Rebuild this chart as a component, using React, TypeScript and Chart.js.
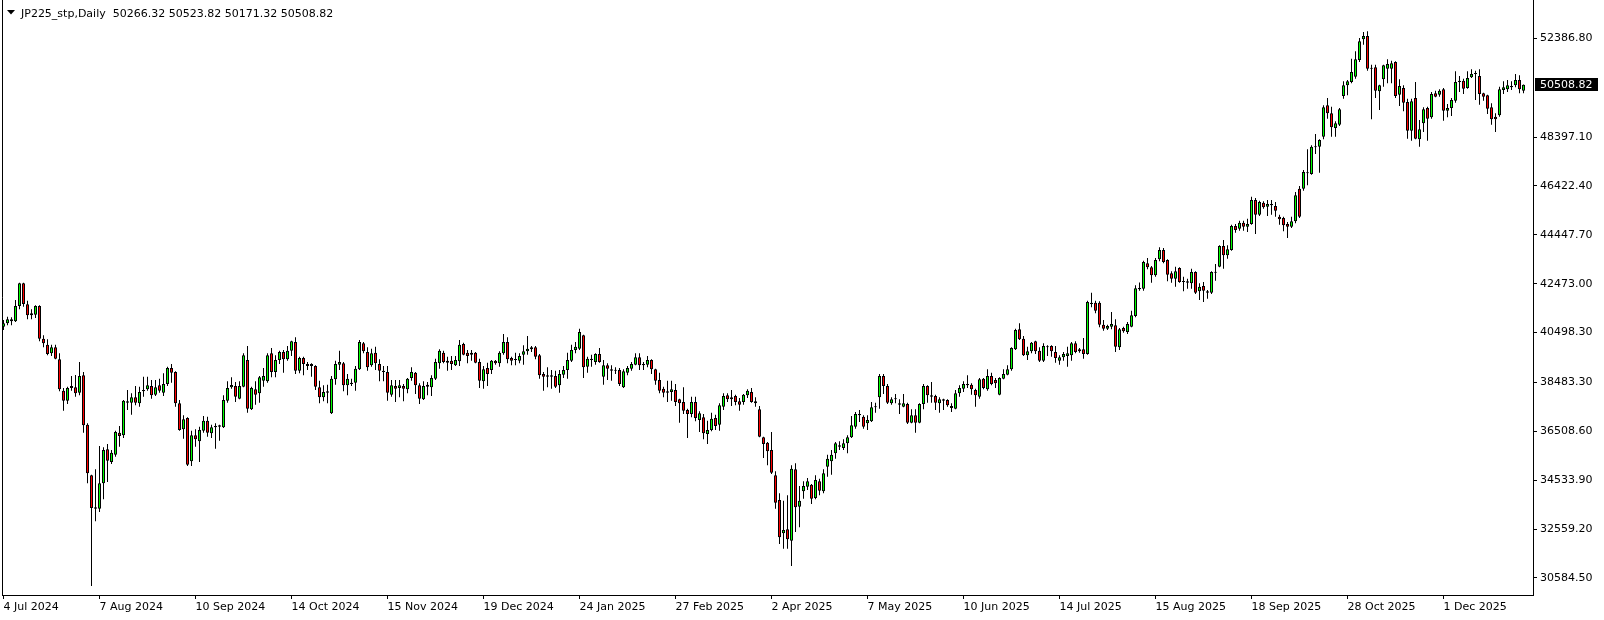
import React, { useEffect, useRef } from "react";
import { Chart, registerables } from "chart.js";

Chart.register(...registerables);

// ---- Data (JP225_stp, Daily) ----
const symbolTitle = "JP225_stp,Daily";

const dateLabels = [
  "4 Jul 2024", "7 Aug 2024", "10 Sep 2024", "14 Oct 2024", "15 Nov 2024", "19 Dec 2024",
  "24 Jan 2025", "27 Feb 2025", "2 Apr 2025", "7 May 2025", "10 Jun 2025", "14 Jul 2025",
  "15 Aug 2025", "18 Sep 2025", "28 Oct 2025", "1 Dec 2025",
];
const dateTickBars = [0, 24, 48, 72, 96, 120, 144, 168, 192, 216, 240, 264, 288, 312, 336, 360];

const priceTicks = [30584.5, 32559.2, 34533.9, 36508.6, 38483.3, 40498.3, 42473.0, 44447.7, 46422.4, 48397.1, 52386.8];

const opens = [
  40737, 40871, 41033, 40952, 41572, 42487, 41639, 41275, 41222, 41572,
  40252, 40010, 39659, 39902, 39417, 38151, 37747, 38340, 38286, 38070,
  38771, 36777, 34730, 33438, 33384, 34407, 35781, 35269, 35565, 36454,
  36347, 37720, 37666, 37882, 37639, 38124, 38205, 38340, 37990, 38367,
  38070, 38420, 39067, 38905, 37639, 36589, 37047, 35296, 36347, 36104,
  36535, 36939, 36427, 36670, 36697, 36670, 37747, 38286, 38340, 37828,
  38313, 39390, 37397, 38205, 38043, 38555, 38528, 39659, 38905, 39390,
  39713, 39417, 39767, 40117, 38959, 39471, 39228, 39228, 39148, 38286,
  37882, 38070, 37235, 38609, 39201, 39255, 38367, 38420, 38474, 39013,
  40063, 39713, 39175, 39686, 39228, 38959, 38905, 37990, 38340, 38259,
  38340, 38205, 38663, 38878, 38367, 37801, 38313, 38286, 38636, 39255,
  39686, 39363, 39363, 39174, 39336, 40036, 39686, 39605, 39686, 39309,
  38528, 39067, 38986, 39363, 39255, 39659, 40117, 39471, 39390, 39363,
  39605, 39740, 39821, 39902, 39578, 38824, 38717, 38770, 38744, 38367,
  38797, 38986, 39363, 39794, 39848, 40387, 39121, 39390, 39309, 39632,
  38717, 39174, 39013, 38959, 38986, 38286, 38878, 39040, 39201, 39498,
  39228, 39201, 39390, 39013, 38582, 38232, 38070, 38097, 38178, 37801,
  37693, 37370, 37208, 37693, 36966, 37074, 36400, 36562, 37047, 36777,
  37505, 37963, 37801, 37936, 37720, 37693, 37963, 38097, 37639, 37397,
  36266, 36050, 35754, 34730, 33734, 32387, 32549, 32091, 34973, 33465,
  34084, 34273, 34354, 33815, 34488, 34084, 35081, 35296, 35619, 35943,
  35835, 36023, 36266, 36697, 37208, 37101, 36831, 36912, 37478, 37882,
  38744, 38340, 37639, 37801, 37639, 37505, 37612, 36858, 37155, 36858,
  37612, 38340, 37963, 37936, 37639, 37801, 37774, 37532, 37424, 38043,
  38232, 38367, 38394, 38178, 37909, 38636, 38205, 38744, 38582, 37990,
  38636, 38797, 39013, 39821, 40629, 40252, 39578, 39740, 40144, 39767,
  39363, 39902, 39956, 39713, 39363, 39498, 39552, 39578, 40063, 39740,
  39821, 39632, 41652, 41706, 41706, 40817, 40656, 40737, 40790, 39902,
  40683, 40521, 40737, 41168, 42245, 42272, 43295, 43134, 42810, 43457,
  43834, 43430, 42891, 42676, 43107, 42541, 42568, 42487, 42945, 42164,
  42380, 42164, 42110, 42918, 43161, 43996, 43619, 43834, 44804, 44696,
  44938, 44777, 44884, 45854, 45261, 45746, 45585, 45638, 45611, 45181,
  45127, 44884, 44777, 44992, 46312, 46312, 46931, 46904, 47982, 48009,
  48413, 49679, 49355, 48763, 48897, 50056, 50487, 50621, 50837, 51510,
  52345, 52480, 51187, 51214, 50244, 50729, 51160, 51160, 51429, 50110,
  50379, 49813, 48655, 49975, 48305, 48951, 49571, 49194, 50163, 50110,
  50325, 49463, 49571, 49867, 50621, 50675, 50379, 50810, 50944, 50864,
  50163, 50083, 49598, 49221, 49275, 50298, 50325, 50406, 50486, 50702,
  50266.32,
];

const highs = [
  41006, 41141, 41114, 41814, 42514, 42514, 41787, 41437, 41599, 41599,
  40386, 40225, 40010, 40010, 39659, 38259, 38313, 38744, 38784, 39309,
  38905, 36831, 34757, 34973, 35916, 35862, 35996, 35754, 36535, 36723,
  37774, 38178, 38043, 38340, 38313, 38717, 38717, 38582, 38582, 38636,
  38851, 39121, 39228, 38932, 37774, 37155, 37074, 36535, 36589, 36697,
  37128, 37101, 36777, 36831, 36777, 37963, 38528, 38690, 38501, 38528,
  39659, 39956, 38313, 38528, 38744, 39067, 39659, 39875, 39578, 39767,
  39794, 39956, 40171, 40306, 39525, 39525, 39309, 39255, 39175, 38555,
  38367, 38394, 38744, 39363, 39767, 39309, 38824, 38636, 39148, 40198,
  40117, 39902, 39848, 39929, 39417, 39148, 39148, 38582, 38582, 38582,
  38420, 38663, 39094, 38905, 38447, 38528, 38501, 38770, 39444, 39821,
  39767, 39525, 39552, 39552, 40198, 40090, 39794, 39794, 39713, 39444,
  39148, 39282, 39390, 39390, 39740, 40440, 40306, 39525, 39686, 39659,
  39983, 40360, 39956, 39956, 39632, 38905, 39094, 38986, 38959, 38986,
  39148, 39686, 40010, 40117, 40656, 40413, 39525, 39605, 39659, 39875,
  39390, 39255, 39174, 39094, 39067, 39013, 39148, 39309, 39659, 39659,
  39309, 39552, 39417, 39040, 38878, 38313, 38555, 38555, 38420, 37828,
  38286, 37424, 37909, 37909, 37316, 37208, 36939, 37262, 37181, 37639,
  38043, 38043, 38178, 37990, 37855, 38016, 38205, 38259, 37882, 37532,
  36293, 36077, 36481, 34892, 34003, 33707, 33922, 35135, 35215, 34300,
  34488, 34623, 34381, 34730, 34596, 34973, 35566, 35754, 36077, 36104,
  36185, 36347, 37128, 37289, 37370, 37155, 37155, 37693, 37666, 38824,
  38824, 38420, 37882, 38016, 37801, 38016, 37666, 37397, 37397, 37639,
  38420, 38367, 38501, 37990, 37882, 37828, 37801, 37639, 38178, 38367,
  38528, 38770, 38447, 38232, 38663, 38663, 39013, 38878, 38663, 38690,
  39013, 39175, 39902, 40656, 40871, 40360, 39929, 40117, 40171, 39902,
  40063, 39983, 39983, 39956, 39578, 39713, 39929, 40117, 40144, 39875,
  40279, 41787, 42110, 41787, 41760, 41006, 40817, 41329, 41033, 40683,
  40737, 40925, 41383, 42407, 42520, 43403, 43511, 43188, 43511, 43942,
  43915, 43457, 42972, 43161, 43134, 42757, 42676, 43080, 42972, 42487,
  42541, 42218, 42972, 43268, 44023, 44238, 44023, 44858, 44884, 45019,
  45019, 45100, 45989, 45935, 45827, 45800, 45854, 45854, 45773, 45261,
  45181, 44965, 45181, 46177, 46419, 47066, 47901, 48063, 48520, 48305,
  49679, 49975, 49625, 49032, 49571, 50648, 50702, 51564, 51860, 52399,
  52641, 52668, 51321, 51321, 50513, 51321, 51537, 51483, 51456, 50729,
  50487, 49948, 49948, 50621, 49086, 49598, 49625, 50217, 50271, 50325,
  50379, 49732, 49975, 51052, 50864, 50756, 51052, 51133, 51079, 51133,
  50190, 50110, 49759, 49355, 50433, 50648, 50702, 50648, 50944, 50890,
  50523.82,
];

const lows = [
  40602, 40790, 40790, 40925, 41437, 41545, 41033, 41033, 41087, 40144,
  39902, 39578, 39551, 39417, 38124, 37343, 37612, 38151, 37909, 37963,
  36454, 34407, 30260, 32872, 33249, 33761, 34461, 35188, 35485, 35889,
  36239, 37370, 37181, 37558, 37505, 37909, 38151, 37828, 37936, 38070,
  37936, 38340, 38474, 37505, 36535, 36212, 35108, 35108, 35889, 35269,
  36454, 36293, 36239, 35808, 36131, 36643, 37666, 38232, 37693, 37801,
  38286, 37262, 37370, 37585, 37666, 38313, 38474, 38690, 38690, 39228,
  38878, 39363, 39551, 38824, 38851, 38771, 38986, 38717, 38178, 37639,
  37720, 37639, 37208, 38394, 38986, 38124, 37963, 38340, 38151, 38986,
  39659, 38959, 39121, 38986, 38528, 38528, 37747, 37909, 37693, 37882,
  37720, 38043, 38555, 38016, 37612, 37774, 37963, 37936, 38582, 39040,
  39255, 38959, 38986, 39148, 39148, 39578, 39255, 39363, 39255, 38259,
  38232, 38340, 38824, 39201, 39121, 39605, 39255, 39174, 39174, 39255,
  39201, 39605, 39713, 39417, 38636, 38151, 38286, 38232, 38259, 38070,
  38663, 38636, 39309, 39659, 39794, 38663, 38878, 39121, 39201, 39282,
  38394, 38582, 38555, 38824, 38340, 38259, 38770, 38959, 39174, 38986,
  38986, 39094, 38824, 38394, 38043, 37882, 37693, 37747, 37532, 36858,
  37208, 36239, 37074, 36912, 36481, 36185, 35996, 36508, 36562, 36535,
  37370, 37693, 37532, 37558, 37343, 37585, 37855, 37666, 37505, 36266,
  35431, 35134, 34784, 33384, 31956, 31768, 31768, 31068, 32441, 32630,
  33788, 34138, 33572, 33761, 33922, 34003, 34677, 34757, 35404, 35754,
  35754, 35619, 36239, 36616, 36885, 36616, 36562, 36885, 37262, 37424,
  38016, 37612, 37585, 37639, 37208, 37478, 36804, 36831, 36454, 36831,
  37397, 37666, 37666, 37370, 37262, 37370, 37505, 37289, 37397, 37909,
  38097, 38259, 37990, 37505, 37828, 38205, 38151, 38367, 38259, 37963,
  38609, 38770, 38959, 39794, 40198, 39552, 39390, 39659, 39632, 39309,
  39309, 39552, 39525, 39282, 39201, 39363, 39121, 39363, 39659, 39686,
  39444, 39605, 41518, 41275, 40710, 40575, 40602, 40629, 39713, 39794,
  40494, 40440, 40710, 41114, 42191, 42191, 43053, 42514, 42757, 43376,
  43295, 42568, 42514, 42353, 42514, 42164, 42272, 42272, 42056, 41814,
  41733, 41868, 42056, 42595, 43134, 43080, 43484, 43807, 44534, 44615,
  44615, 44561, 44858, 44480, 45207, 45504, 45207, 45261, 45181, 44857,
  44588, 44319, 44723, 44911, 45127, 46231, 46446, 46877, 47712, 46958,
  48305, 49140, 48413, 48413, 48844, 49948, 50083, 50567, 50756, 51429,
  52129, 51079, 49113, 49975, 49490, 50433, 50567, 50567, 49975, 49652,
  49436, 48332, 48251, 48305, 48009, 48601, 48251, 49140, 50002, 50029,
  49059, 49194, 49248, 49786, 50217, 50136, 50352, 50783, 49894, 49706,
  49867, 49329, 48897, 48601, 49221, 50136, 50217, 50298, 50406, 50163,
  50171.32,
];

const closes = [
  40871, 41033, 40952, 41572, 42487, 41652, 41195, 41195, 41572, 40252,
  40063, 39632, 39902, 39444, 38205, 37747, 38259, 38259, 38043, 38744,
  36750, 34811, 33411, 33384, 34407, 35754, 35323, 35646, 36481, 36320,
  37747, 37666, 37882, 37666, 38097, 38178, 38367, 37963, 38286, 38151,
  38420, 39067, 38878, 37639, 36562, 36993, 35162, 36347, 36185, 36562,
  36939, 36454, 36670, 36723, 36750, 37774, 38259, 38380, 37909, 38340,
  39578, 37424, 38259, 37990, 38690, 38744, 39578, 38905, 39390, 39713,
  39417, 39767, 40144, 38959, 39471, 39228, 39148, 39148, 38313, 37882,
  38097, 38124, 38636, 39228, 39309, 38367, 38636, 38474, 39040, 40117,
  39740, 39094, 39659, 39255, 38959, 38905, 38070, 38367, 38232, 38367,
  38232, 38636, 38905, 38367, 37828, 38340, 38394, 38663, 39309, 39767,
  39309, 39282, 39228, 39390, 40010, 39605, 39552, 39686, 39282, 38555,
  39013, 38824, 39363, 39255, 39686, 40117, 39417, 39363, 39417, 39552,
  39740, 39848, 39902, 39525, 38770, 38717, 38770, 38717, 38313, 38824,
  38986, 39390, 39794, 39929, 40521, 39094, 39444, 39444, 39632, 39309,
  39174, 39040, 38959, 38986, 38420, 38932, 39067, 39228, 39498, 39174,
  39174, 39390, 39013, 38555, 38151, 38070, 38124, 38205, 37693, 37639,
  37343, 37208, 37693, 37047, 37235, 36427, 36562, 37020, 36723, 37558,
  37936, 37801, 37882, 37693, 37585, 37990, 38151, 37693, 37720, 36293,
  35996, 35700, 34838, 33626, 32226, 32522, 32145, 35000, 33438, 33707,
  34300, 34488, 33788, 34542, 34111, 34811, 35404, 35566, 36023, 35889,
  36023, 36266, 36750, 37208, 37155, 36697, 36966, 37478, 37505, 38744,
  38340, 37666, 37801, 37828, 37585, 37639, 36858, 37155, 36858, 37612,
  38340, 37963, 37909, 37666, 37801, 37747, 37558, 37451, 38043, 38259,
  38420, 38420, 38205, 37963, 38609, 38259, 38744, 38420, 38447, 38663,
  38824, 39013, 39875, 40602, 40225, 39578, 39740, 40090, 39740, 39363,
  39956, 39929, 39740, 39471, 39498, 39632, 39659, 40063, 39713, 39821,
  39632, 41733, 41706, 41383, 40817, 40656, 40764, 40844, 39929, 40629,
  40548, 40844, 41195, 42290, 42299, 43349, 43134, 42810, 43430, 43834,
  43349, 42837, 42676, 42972, 42541, 42568, 42514, 42945, 42110, 42353,
  42191, 42110, 42945, 42945, 43996, 43619, 43861, 44804, 44642, 44938,
  44777, 44884, 45854, 45261, 45773, 45558, 45692, 45692, 45423, 45073,
  44831, 44777, 44992, 46043, 45181, 46985, 46958, 48009, 48009, 48278,
  49598, 49355, 48790, 48951, 49517, 50487, 50648, 51025, 51537, 52264,
  52480, 51160, 51160, 50271, 50487, 51294, 51348, 51375, 50056, 50460,
  49786, 48655, 49840, 48332, 48709, 49517, 49140, 50136, 50029, 50271,
  49463, 49571, 49894, 50621, 50675, 50352, 50783, 50944, 50971, 50136,
  50029, 49544, 49113, 49113, 50325, 50406, 50486, 50460, 50702, 50325,
  50508.82,
];

// ---- Styles ----
const BULL = "#00FF00";
const BEAR = "#FF0000";
const INK = "#000000";
const FONT = "DejaVu Sans";
const W = 1604;
const H = 620;

const overlayPlugin = {
  id: "mt4Overlay",
  beforeDatasetsDraw(chart: any) {
    const { ctx, chartArea } = chart;
    ctx.save();
    ctx.strokeStyle = INK;
    ctx.lineWidth = 1;
    ctx.beginPath();
    ctx.moveTo(chartArea.left + 0.5, 0);
    ctx.lineTo(chartArea.left + 0.5, chartArea.bottom + 0.5);
    ctx.stroke();
    ctx.restore();
  },
  afterDraw(chart: any) {
    const { ctx, chartArea, scales } = chart;
    const last = closes.length - 1;
    ctx.save();
    // title
    ctx.fillStyle = INK;
    ctx.beginPath();
    ctx.moveTo(7, 10);
    ctx.lineTo(15, 10);
    ctx.lineTo(11, 14.5);
    ctx.closePath();
    ctx.fill();
    ctx.font = `11px "${FONT}"`;
    ctx.textBaseline = "alphabetic";
    ctx.textAlign = "left";
    const ohlc = [opens[last], highs[last], lows[last], closes[last]].map((v) => v.toFixed(2)).join(" ");
    ctx.fillText(`${symbolTitle}  ${ohlc}`, 21, 17);
    // current price label
    const py = Math.round(scales.y.getPixelForValue(closes[last]));
    const bx = chartArea.right + 2;
    ctx.fillStyle = INK;
    ctx.fillRect(bx, py - 7, 63, 13);
    ctx.fillStyle = "#FFFFFF";
    ctx.textBaseline = "middle";
    ctx.fillText(closes[last].toFixed(2), chartArea.right + 7, py);
    ctx.restore();
  },
};

export default function App() {
  const ref = useRef<HTMLCanvasElement>(null);

  useEffect(() => {
    document.body.style.margin = "0";
    const idx = opens.map((_, i) => i);
    const bodies = idx.map((i) => ({ x: i, y: [opens[i], closes[i]] }));
    const wicks = idx.map((i) => ({ x: i, y: [lows[i], highs[i]] }));
    const colors = idx.map((i) => (closes[i] >= opens[i] ? BULL : BEAR));

    const chart = new Chart(ref.current as HTMLCanvasElement, {
      type: "bar",
      data: {
        datasets: [
          {
            label: "body",
            data: bodies as any,
            backgroundColor: colors,
            borderColor: INK,
            borderWidth: 1,
            borderSkipped: false,
            barThickness: 3,
            grouped: false,
            order: 0,
            minBarLength: 1,
            inflateAmount: 0,
          } as any,
          {
            label: "wick",
            data: wicks as any,
            backgroundColor: INK,
            borderWidth: 0,
            barThickness: 1,
            grouped: false,
            order: 1,
            inflateAmount: 0,
          } as any,
        ],
      },
      options: {
        responsive: false,
        animation: false,
        events: [],
        layout: { padding: { left: 2, top: 0, right: 0, bottom: 0 } },
        plugins: {
          legend: { display: false },
          tooltip: { enabled: false },
          title: { display: false },
        },
        scales: {
          x: {
            type: "linear",
            position: "bottom",
            min: -0.375,
            max: 382.375,
            offset: false,
            grid: { display: true, drawOnChartArea: false, drawTicks: true, tickLength: 4, color: INK, lineWidth: 1, offset: false },
            border: { display: true, color: INK, width: 1 },
            ticks: {
              autoSkip: false,
              maxRotation: 0,
              minRotation: 0,
              align: "start",
              padding: 2,
              color: INK,
              font: { family: FONT, size: 11 },
              callback: (value: any) => {
                const k = dateTickBars.indexOf(Number(value));
                return k >= 0 ? dateLabels[k] : "";
              },
            },
            afterBuildTicks: (scale: any) => {
              scale.ticks = dateTickBars.map((v) => ({ value: v }));
            },
            afterFit: (scale: any) => {
              scale.height = 25;
              scale.paddingLeft = 0;
              scale.paddingRight = 0;
              scale.paddingTop = 0;
              scale.paddingBottom = 0;
            },
          } as any,
          y: {
            type: "linear",
            position: "right",
            min: 29896,
            max: 53934,
            grid: { display: true, drawOnChartArea: false, drawTicks: true, tickLength: 4, color: INK, lineWidth: 1 },
            border: { display: true, color: INK, width: 1 },
            ticks: {
              autoSkip: false,
              padding: 3,
              color: INK,
              font: { family: FONT, size: 11 },
              callback: (value: any) => Number(value).toFixed(2),
            },
            afterBuildTicks: (scale: any) => {
              scale.ticks = priceTicks.map((v) => ({ value: v }));
            },
            afterFit: (scale: any) => {
              scale.width = 71;
              scale.paddingLeft = 0;
              scale.paddingRight = 0;
              scale.paddingTop = 0;
              scale.paddingBottom = 0;
            },
          } as any,
        },
      },
      plugins: [overlayPlugin],
    });
    return () => chart.destroy();
  }, []);

  return (
    <div style={{ width: W, height: H, background: "#FFFFFF" }}>
      <canvas ref={ref} width={W} height={H} style={{ display: "block" }} />
    </div>
  );
}
